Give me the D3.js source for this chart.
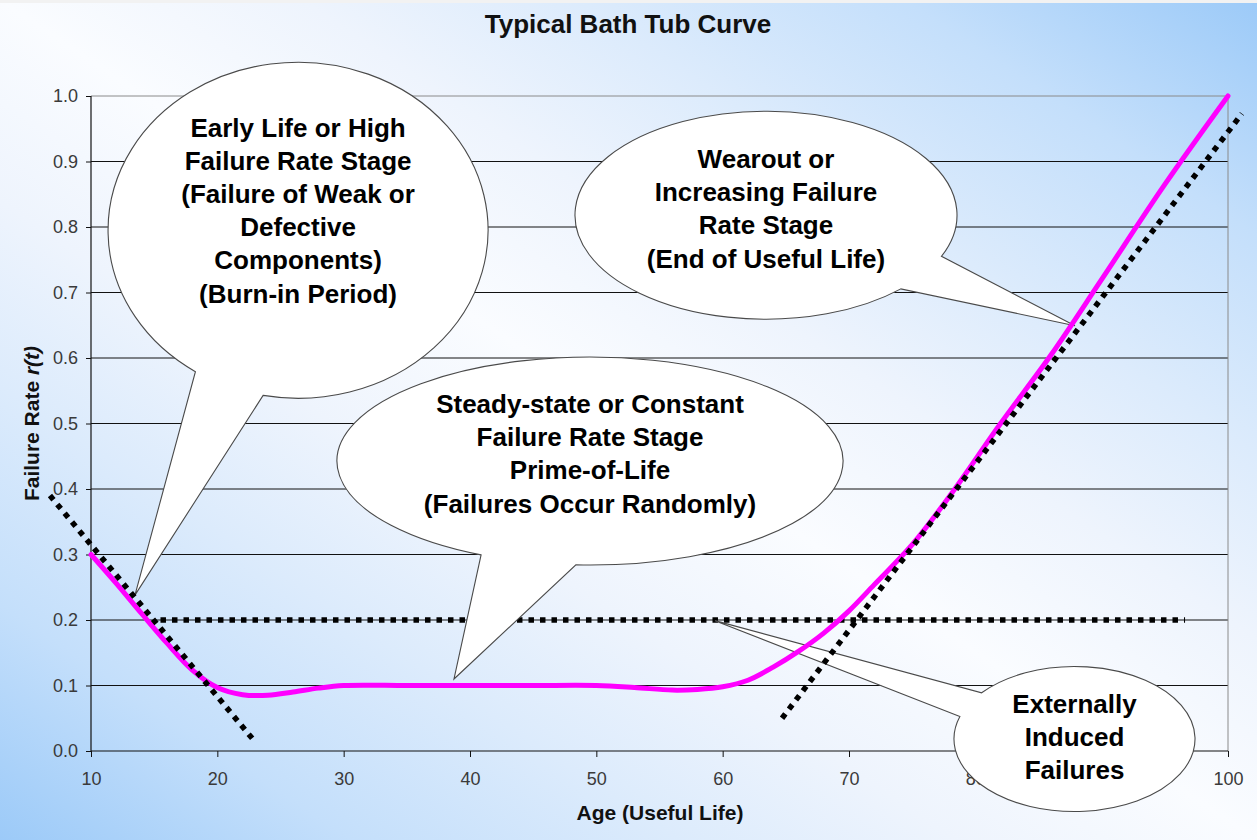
<!DOCTYPE html>
<html>
<head>
<meta charset="utf-8">
<script src="https://cdn.jsdelivr.net/npm/d3@7"></script>
<style>
  html, body { margin: 0; padding: 0; background: #fff; }
  svg { display: block; }
</style>
</head>
<body>
<svg id="chart" width="1257" height="840"></svg>
<script>
// ---- data ----
const xTicks = [10, 20, 30, 40, 50, 60, 70, 80, 90, 100];
const yTicks = [0.0, 0.1, 0.2, 0.3, 0.4, 0.5, 0.6, 0.7, 0.8, 0.9, 1.0];

// bath-tub failure-rate curve r(t)
const curveAge  = [10, 12, 14, 16, 18, 20, 22, 24, 26, 28, 30, 35, 40, 45, 50, 53, 56, 58, 60, 62, 64, 66, 68, 70, 72, 75, 78, 82, 86, 90, 95, 100];
const curveRate = [0.30, 0.256, 0.21, 0.165, 0.124, 0.097, 0.086, 0.085, 0.09, 0.096, 0.10, 0.10, 0.10, 0.10, 0.10, 0.097, 0.093, 0.094, 0.098, 0.108, 0.128, 0.152, 0.18, 0.214, 0.254, 0.315, 0.39, 0.50, 0.605, 0.72, 0.865, 1.0];

// straight dotted trend lines [age, rate]
const earlyTrend    = [[6.75, 0.39], [22.9, 0.016]];
const constantTrend = [[15.5, 0.2], [96.6, 0.2]];
const wearoutTrend  = [[64.7, 0.05], [101.1, 0.973]];

// speech-bubble annotations (centre / radii / pointer tip in data units)
const calloutText = [
  ["Early Life or High", "Failure Rate Stage", "(Failure of Weak or", "Defective", "Components)", "(Burn-in Period)"],
  ["Wearout or", "Increasing Failure", "Rate Stage", "(End of Useful Life)"],
  ["Steady-state or Constant", "Failure Rate Stage", "Prime-of-Life", "(Failures Occur Randomly)"],
  ["Externally", "Induced", "Failures"]
];
const calloutCentre   = [[26.39, 0.795], [63.43, 0.818], [49.5, 0.4427], [87.85, 0.0183]];
const calloutRadii    = [[15.04, 0.2565], [15.12, 0.1588], [20.03, 0.1588], [9.54, 0.1107]];
const calloutTip      = [[13.48, 0.238], [87.89, 0.6493], [38.73, 0.1099], [59.39, 0.199]];
const calloutBase     = [[100.6, 122.7], [23.3, 45.1], [93.2, 115.5], [198, 219.6]]; // pointer base, degrees on ellipse
const calloutBaseline = [0.938, 0.890, 0.516, 0.058];

// ---- layout ----
const W = 1257, H = 840;
const svg = d3.select("#chart");
const x = d3.scaleLinear().domain([10, 100]).range([91, 1228]);
const y = d3.scaleLinear().domain([0, 1]).range([751, 96]);
const font = "'Liberation Sans', Arial, Helvetica, sans-serif";

// background gradient: blue corners bottom-left / top-right, pale along the other diagonal
const defs = svg.append("defs");
const grad = defs.append("linearGradient").attr("id", "bg")
  .attr("x1", 0).attr("y1", 1).attr("x2", 1).attr("y2", 0);
[[0, "#9ccaf8"], [0.14, "#c4dffb"], [0.27, "#dcebfc"], [0.38, "#eef4fd"], [0.5, "#fafcff"],
 [0.62, "#eef4fd"], [0.73, "#dcebfc"], [0.86, "#c4dffb"], [1, "#9ccaf8"]]
  .forEach(([o, c]) => grad.append("stop").attr("offset", o).attr("stop-color", c));
svg.append("rect").attr("width", W).attr("height", H).attr("fill", "url(#bg)");
svg.append("rect").attr("width", W).attr("height", 3).attr("fill", "#f2f2f2");

// title
svg.append("text").attr("x", 628).attr("y", 33)
  .attr("text-anchor", "middle").attr("font-family", font)
  .attr("font-weight", "bold").attr("font-size", 26).attr("fill", "#111")
  .text("Typical Bath Tub Curve");

// horizontal gridlines
svg.append("g").selectAll("line").data(yTicks.filter(v => v > 0 && v < 1)).join("line")
  .attr("x1", x(10)).attr("x2", x(100))
  .attr("y1", d => y(d)).attr("y2", d => y(d))
  .attr("stroke", "#111").attr("stroke-width", 1);

// plot frame top / right
svg.append("path")
  .attr("d", `M${x(10)},${y(1)}H${x(100)}V${y(0)}`)
  .attr("fill", "none").attr("stroke", "#8a8a8a").attr("stroke-width", 1);

// axes
const yAxis = d3.axisLeft(y).tickValues(yTicks).tickFormat(d3.format(".1f")).tickSize(5).tickPadding(8);
const xAxis = d3.axisBottom(x).tickValues(xTicks).tickFormat(d3.format("d")).tickSize(6).tickPadding(15);
const gy = svg.append("g").attr("transform", `translate(${x(10)},0)`).call(yAxis);
const gx = svg.append("g").attr("transform", `translate(0,${y(0)})`).call(xAxis);
[gy, gx].forEach(g => {
  g.select(".domain").attr("stroke", "#111").attr("stroke-width", 1.2);
  g.selectAll(".tick line").attr("stroke", "#111");
  g.selectAll(".tick text").attr("font-family", font).attr("font-size", 18).attr("fill", "#3a3a3a");
});
gy.select(".domain").attr("d", `M0,${y(1)}V${y(0)}`);
gx.select(".domain").attr("d", `M${x(10)},0H${x(100)}`);

// axis titles
svg.append("text").attr("x", 660).attr("y", 820)
  .attr("text-anchor", "middle").attr("font-family", font)
  .attr("font-weight", "bold").attr("font-size", 21).attr("fill", "#111")
  .text("Age (Useful Life)");
const yl = svg.append("text")
  .attr("transform", `translate(39,${(y(0) + y(1)) / 2}) rotate(-90)`)
  .attr("text-anchor", "middle").attr("font-family", font)
  .attr("font-weight", "bold").attr("font-size", 21).attr("fill", "#111");
yl.append("tspan").text("Failure Rate ");
yl.append("tspan").attr("font-style", "italic").text("r(t)");

const line = d3.line().x(d => x(d[0])).y(d => y(d[1]));
const dotted = (g, pts) => g.append("path").attr("d", line(pts))
  .attr("fill", "none").attr("stroke", "#000").attr("stroke-width", 5.5)
  .attr("stroke-dasharray", "5.5,6");

// constant-rate trend under the bubbles
dotted(svg, constantTrend);

// speech bubbles
const calloutLayer = svg.append("g");
calloutText.forEach((lines, i) => {
  const cx = x(calloutCentre[i][0]), cy = y(calloutCentre[i][1]);
  const rx = x(calloutCentre[i][0] + calloutRadii[i][0]) - cx;
  const ry = cy - y(calloutCentre[i][1] + calloutRadii[i][1]);
  const tx = x(calloutTip[i][0]), ty = y(calloutTip[i][1]);
  const pt = deg => {
    const a = deg * Math.PI / 180;
    return [cx + rx * Math.cos(a), cy + ry * Math.sin(a)];
  };
  const [a1, a2] = calloutBase[i];
  const p1 = pt(a1), p2 = pt(a2);
  const d = `M${p2[0]},${p2[1]} A${rx},${ry} 0 1 1 ${p1[0]},${p1[1]} L${tx},${ty} Z`;
  const g = calloutLayer.append("g");
  g.append("path").attr("d", d).attr("fill", "#fff")
    .attr("stroke", "#4a4a4a").attr("stroke-width", 1.1).attr("stroke-linejoin", "miter");
  const by = y(calloutBaseline[i]);
  g.append("g").selectAll("text").data(lines).join("text")
    .attr("x", cx).attr("y", (d, k) => by + k * 33.2)
    .attr("text-anchor", "middle").attr("font-family", font)
    .attr("font-weight", "bold").attr("font-size", 26).attr("fill", "#000")
    .text(d => d);
});

// failure-rate curve
svg.append("path")
  .attr("d", d3.line().x(d => x(d[0])).y(d => y(d[1])).curve(d3.curveCatmullRom.alpha(0.5))(curveAge.map((a, i) => [a, curveRate[i]])))
  .attr("fill", "none").attr("stroke", "#ff00ff").attr("stroke-width", 5)
  .attr("stroke-linecap", "round").attr("stroke-linejoin", "round");

// early-life and wear-out trends
dotted(svg, earlyTrend);
dotted(svg, wearoutTrend);
</script>
</body>
</html>
